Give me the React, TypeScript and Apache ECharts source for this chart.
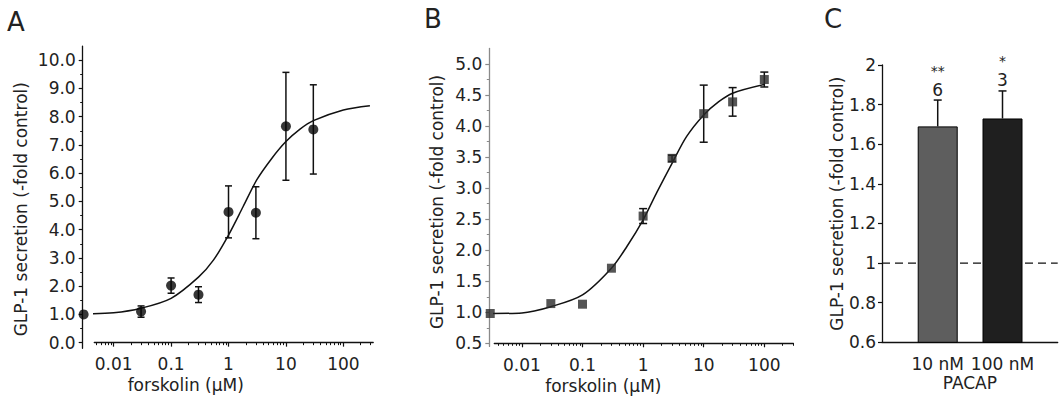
import React, { useEffect, useRef } from 'react';
import * as echarts from 'echarts';

const FONT = 'DejaVu Sans';
const TEXT = '#222';

// ---------- Panel A : forskolin dose response (circles)
const forskolinA = [0.003, 0.03, 0.1, 0.3, 1, 3, 10, 30];
const glp1A = [1.0, 1.1, 2.02, 1.7, 4.63, 4.6, 7.66, 7.55];
const semA = [0, 0.2, 0.27, 0.28, 0.92, 0.92, 1.91, 1.58];
const fitConcA = [0.003, 0.01, 0.03, 0.1, 0.3, 0.55, 1, 1.8, 3.1, 5.7, 10, 17.6, 30, 100, 290];
const fitGlp1A = [1.02, 1.06, 1.22, 1.57, 2.32, 2.93, 3.81, 4.82, 5.76, 6.53, 7.12, 7.56, 7.86, 8.24, 8.39];

// ---------- Panel B : forskolin dose response (squares)
const forskolinB = [0.003, 0.03, 0.1, 0.3, 1, 3, 10, 30, 100];
const glp1B = [0.98, 1.14, 1.13, 1.71, 2.55, 3.48, 4.2, 4.39, 4.75];
const semB = [0, 0, 0, 0, 0.12, 0.05, 0.46, 0.23, 0.12];
const fitConcB = [0.003, 0.01, 0.03, 0.1, 0.3, 0.54, 1, 1.7, 3, 5.2, 10, 17.5, 30, 100];
const fitGlp1B = [0.98, 0.99, 1.09, 1.28, 1.71, 2.06, 2.49, 2.94, 3.4, 3.83, 4.18, 4.39, 4.53, 4.67];

// ---------- Panel C : PACAP bars
const pacapLabels = ['10 nM', '100 nM'];
const pacapPos = [1, 2];
const glp1C = [1.69, 1.73];
const semC = [0.133, 0.139];
const nC = ['6', '3'];
const sigC = ['**', '*'];
const barColorsC = ['#5e5e5e', '#1f1f1f'];

// ---------- tick values / labels
const xDecades = [0.01, 0.1, 1, 10, 100];
const xDecadeLabels = ['0.01', '0.1', '1', '10', '100'];
const yMajorA = [0, 1, 2, 3, 4, 5, 6, 7, 8, 9, 10];
const yMinorA = [0.5, 1.5, 2.5, 3.5, 4.5, 5.5, 6.5, 7.5, 8.5, 9.5];
const yMajorB = [0.5, 1.0, 1.5, 2.0, 2.5, 3.0, 3.5, 4.0, 4.5, 5.0];
const yMinorB = [0.75, 1.25, 1.75, 2.25, 2.75, 3.25, 3.75, 4.25, 4.75];

const lg = (v: number) => Math.log10(v);

function logMinorTicks(lo: number, hi: number): number[] {
  const out: number[] = [];
  for (let d = -3; d <= 2; d++) {
    for (let k = 2; k <= 9; k++) {
      const v = k * Math.pow(10, d);
      if (v >= lo * (1 - 1e-9) && v <= hi * (1 + 1e-9)) out.push(lg(v));
    }
  }
  return out;
}

const decadeLabel = (v: number) => {
  for (let i = 0; i < xDecades.length; i++) {
    if (Math.abs(lg(xDecades[i]) - v) < 1e-6) return xDecadeLabels[i];
  }
  return '';
};

// ---------- layout
const GA = { left: 94.3, top: 46.1, width: 278.9, height: 302.2 };
const GB = { left: 494.3, top: 48.5, width: 299.1, height: 297.9 };
const GC = { left: 882, top: 65, width: 175.7, height: 277.3 };

const xRangeA = [0.0046, 331];
const yRangeA = [-0.2, 10.5];
const yCrossA = 0;
const xRangeB = [0.0035, 302];
const yRangeB = [0.45, 5.25];
const yCrossB = 0.5;
const xRangeC = [0.14, 2.852];
const yRangeC = [0.6, 2];

const labelStyle = { fontFamily: FONT, fontSize: 17, color: TEXT };

function errRender(cap: number, color: string) {
  return (params: any, api: any) => {
    const x = api.value(0);
    const m = api.value(1);
    const e = api.value(2);
    if (!e) return { type: 'group', children: [] };
    const hi = api.coord([x, m + e]);
    const lo = api.coord([x, m - e]);
    const style = { stroke: color, lineWidth: 1.5 };
    return {
      type: 'group',
      children: [
        { type: 'line', shape: { x1: hi[0], y1: hi[1], x2: lo[0], y2: lo[1] }, style },
        { type: 'line', shape: { x1: hi[0] - cap, y1: hi[1], x2: hi[0] + cap, y2: hi[1] }, style },
        { type: 'line', shape: { x1: lo[0] - cap, y1: lo[1], x2: lo[0] + cap, y2: lo[1] }, style },
      ],
    };
  };
}

function barErrRender(params: any, api: any) {
  const i = params.dataIndex;
  const x = api.value(0);
  const m = api.value(1);
  const e = api.value(2);
  const hi = api.coord([x, m + e]);
  const lo = api.coord([x, m]);
  const style = { stroke: '#111', lineWidth: 1.5 };
  const nBottom = hi[1] - 2;
  const nTop = nBottom - 17;
  return {
    type: 'group',
    children: [
      { type: 'line', shape: { x1: hi[0], y1: hi[1], x2: lo[0], y2: lo[1] }, style },
      { type: 'line', shape: { x1: hi[0] - 4, y1: hi[1], x2: hi[0] + 4, y2: hi[1] }, style },
      {
        type: 'text',
        style: {
          text: nC[i],
          x: hi[0],
          y: nBottom,
          align: 'center',
          verticalAlign: 'bottom',
          fontFamily: FONT,
          fontSize: 17,
          fill: TEXT,
        },
      },
      {
        type: 'text',
        style: {
          text: sigC[i],
          x: hi[0],
          y: nTop - 3.5,
          align: 'center',
          verticalAlign: 'bottom',
          fontFamily: FONT,
          fontSize: 14,
          fill: TEXT,
        },
      },
    ],
  };
}

function buildOption(): any {
  const offA = -((yCrossA - yRangeA[0]) / (yRangeA[1] - yRangeA[0])) * GA.height;
  const offB = -((yCrossB - yRangeB[0]) / (yRangeB[1] - yRangeB[0])) * GB.height;
  const commonX = {
    type: 'value',
    position: 'bottom',
    splitLine: { show: false },
    axisLine: { show: true, onZero: false, lineStyle: { color: '#111', width: 1.3 } },
  };
  const commonY = {
    type: 'value',
    position: 'left',
    splitLine: { show: false },
  };
  const gridCommon = { containLabel: false, outerBoundsMode: 'none' };
  return {
    animation: false,
    backgroundColor: '#fff',
    textStyle: { fontFamily: FONT },
    grid: [
      { ...GA, ...gridCommon },
      { ...GB, ...gridCommon },
      { ...GC, ...gridCommon },
    ],
    xAxis: [
      // A major
      {
        ...commonX,
        gridIndex: 0,
        min: lg(xRangeA[0]),
        max: lg(xRangeA[1]),
        offset: offA,
        axisTick: { show: true, length: 4, customValues: xDecades.map(lg), lineStyle: { color: '#111', width: 1.2 } },
        axisLabel: { ...labelStyle, margin: 13, customValues: xDecades.map(lg), formatter: decadeLabel },
        name: 'forskolin (\u03bcM)',
        nameLocation: 'middle',
        nameGap: 34,
        nameMoveOverlap: false,
        nameTextStyle: { ...labelStyle, padding: [0, 96, 0, 0] },
      },
      // A minor
      {
        ...commonX,
        gridIndex: 0,
        min: lg(xRangeA[0]),
        max: lg(xRangeA[1]),
        offset: offA,
        axisLine: { show: false, onZero: false },
        axisTick: { show: true, length: 2.5, customValues: logMinorTicks(xRangeA[0], xRangeA[1]), lineStyle: { color: '#111', width: 1 } },
        axisLabel: { show: false },
      },
      // B major
      {
        ...commonX,
        gridIndex: 1,
        min: lg(xRangeB[0]),
        max: lg(xRangeB[1]),
        offset: offB,
        axisTick: { show: true, length: 4, customValues: xDecades.map(lg), lineStyle: { color: '#111', width: 1.2 } },
        axisLabel: { ...labelStyle, margin: 13, customValues: xDecades.map(lg), formatter: decadeLabel },
        name: 'forskolin (\u03bcM)',
        nameLocation: 'middle',
        nameGap: 34,
        nameMoveOverlap: false,
        nameTextStyle: { ...labelStyle, padding: [0, 81, 0, 0] },
      },
      // B minor
      {
        ...commonX,
        gridIndex: 1,
        min: lg(xRangeB[0]),
        max: lg(xRangeB[1]),
        offset: offB,
        axisLine: { show: false, onZero: false },
        axisTick: { show: true, length: 2.5, customValues: logMinorTicks(xRangeB[0], xRangeB[1]), lineStyle: { color: '#111', width: 1 } },
        axisLabel: { show: false },
      },
      // C
      {
        ...commonX,
        gridIndex: 2,
        min: xRangeC[0],
        max: xRangeC[1],
        axisTick: { show: false },
        axisLabel: {
          ...labelStyle,
          margin: 13,
          customValues: pacapPos,
          formatter: (v: number) => pacapLabels[pacapPos.indexOf(Math.round(v))] ?? '',
        },
        name: 'PACAP',
        nameLocation: 'middle',
        nameGap: 32,
        nameMoveOverlap: false,
        nameTextStyle: { ...labelStyle },
      },
    ],
    yAxis: [
      // A major
      {
        ...commonY,
        gridIndex: 0,
        min: yRangeA[0],
        max: yRangeA[1],
        offset: GA.left - 82.7,
        axisLine: { show: true, onZero: false, lineStyle: { color: '#111', width: 1.3 } },
        axisTick: { show: true, length: 4, customValues: yMajorA, lineStyle: { color: '#111', width: 1.2 } },
        axisLabel: { ...labelStyle, margin: 7, customValues: yMajorA, formatter: (v: number) => v.toFixed(1) },
        name: 'GLP-1 secretion (-fold control)',
        nameLocation: 'middle',
        nameGap: 53,
        nameMoveOverlap: false,
        nameTextStyle: { ...labelStyle, padding: [0, 24, 0, 0] },
      },
      // A minor
      {
        ...commonY,
        gridIndex: 0,
        min: yRangeA[0],
        max: yRangeA[1],
        offset: GA.left - 82.7,
        axisLine: { show: false, onZero: false },
        axisTick: { show: true, length: 2.5, customValues: yMinorA, lineStyle: { color: '#111', width: 1 } },
        axisLabel: { show: false },
      },
      // B major
      {
        ...commonY,
        gridIndex: 1,
        min: yRangeB[0],
        max: yRangeB[1],
        offset: GB.left - 489.3,
        axisLine: { show: true, onZero: false, lineStyle: { color: '#8a8a8a', width: 1.3 } },
        axisTick: { show: true, length: 4, customValues: yMajorB, lineStyle: { color: '#8a8a8a', width: 1.2 } },
        axisLabel: { ...labelStyle, margin: 7, customValues: yMajorB, formatter: (v: number) => v.toFixed(1) },
        name: 'GLP-1 secretion (-fold control)',
        nameLocation: 'middle',
        nameGap: 44,
        nameMoveOverlap: false,
        nameTextStyle: { ...labelStyle, padding: [0, 9, 0, 0] },
      },
      // B minor
      {
        ...commonY,
        gridIndex: 1,
        min: yRangeB[0],
        max: yRangeB[1],
        offset: GB.left - 489.3,
        axisLine: { show: false, onZero: false },
        axisTick: { show: true, length: 2.5, customValues: yMinorB, lineStyle: { color: '#8a8a8a', width: 1 } },
        axisLabel: { show: false },
      },
      // C
      {
        ...commonY,
        gridIndex: 2,
        min: yRangeC[0],
        max: yRangeC[1],
        interval: 0.2,
        axisLine: { show: true, onZero: false, lineStyle: { color: '#111', width: 1.3 } },
        axisTick: { show: true, length: 4, lineStyle: { color: '#111', width: 1.2 } },
        axisLabel: { ...labelStyle, margin: 6 },
        name: 'GLP-1 secretion (-fold control)',
        nameLocation: 'middle',
        nameGap: 37,
        nameMoveOverlap: false,
        nameTextStyle: { ...labelStyle },
      },
    ],
    graphic: [
      { type: 'text', left: 7, top: 9, style: { text: 'A', fontFamily: FONT, fontSize: 26, fill: TEXT } },
      { type: 'text', left: 424, top: 6, style: { text: 'B', fontFamily: FONT, fontSize: 26, fill: TEXT } },
      { type: 'text', left: 824, top: 6, style: { text: 'C', fontFamily: FONT, fontSize: 26, fill: TEXT } },
    ],
    series: [
      // ---- A
      {
        type: 'custom',
        xAxisIndex: 0,
        yAxisIndex: 0,
        renderItem: errRender(3.5, '#111'),
        encode: { x: 0, y: 1 },
        data: forskolinA.map((c, i) => [lg(c), glp1A[i], semA[i]]),
        z: 2,
      },
      {
        type: 'line',
        xAxisIndex: 0,
        yAxisIndex: 0,
        data: fitConcA.map((c, i) => [lg(c), fitGlp1A[i]]),
        smooth: 0.3,
        showSymbol: false,
        symbol: 'none',
        clip: false,
        lineStyle: { color: '#111', width: 1.5 },
        z: 3,
      },
      {
        type: 'scatter',
        xAxisIndex: 0,
        yAxisIndex: 0,
        data: forskolinA.map((c, i) => [lg(c), glp1A[i]]),
        symbol: 'circle',
        symbolSize: 10,
        clip: false,
        itemStyle: { color: '#050505' },
        z: 4,
      },
      // ---- B
      {
        type: 'custom',
        xAxisIndex: 2,
        yAxisIndex: 2,
        renderItem: errRender(4, '#111'),
        encode: { x: 0, y: 1 },
        data: forskolinB.map((c, i) => [lg(c), glp1B[i], semB[i]]),
        z: 2,
      },
      {
        type: 'line',
        xAxisIndex: 2,
        yAxisIndex: 2,
        data: fitConcB.map((c, i) => [lg(c), fitGlp1B[i]]),
        smooth: 0.3,
        showSymbol: false,
        symbol: 'none',
        clip: false,
        lineStyle: { color: '#111', width: 1.5 },
        z: 3,
      },
      {
        type: 'scatter',
        xAxisIndex: 2,
        yAxisIndex: 2,
        data: forskolinB.map((c, i) => [lg(c), glp1B[i]]),
        symbol: 'rect',
        symbolSize: 9,
        clip: false,
        itemStyle: { color: '#2a2a2a' },
        z: 4,
      },
      // ---- C
      {
        type: 'line',
        xAxisIndex: 4,
        yAxisIndex: 4,
        data: [[xRangeC[0], 1], [xRangeC[1], 1]],
        symbol: 'none',
        lineStyle: { color: '#111', width: 1.3, type: [8, 5] },
        z: 1,
      },
      {
        type: 'bar',
        xAxisIndex: 4,
        yAxisIndex: 4,
        barWidth: 40,
        data: pacapPos.map((p, i) => ({
          value: [p, glp1C[i]],
          itemStyle: { color: barColorsC[i], borderColor: '#000', borderWidth: 1 },
        })),
        z: 3,
      },
      {
        type: 'custom',
        xAxisIndex: 4,
        yAxisIndex: 4,
        renderItem: barErrRender,
        encode: { x: 0, y: 1 },
        data: pacapPos.map((p, i) => [p, glp1C[i], semC[i]]),
        z: 4,
      },
    ],
  };
}

export default function App() {
  const ref = useRef<HTMLDivElement>(null);
  useEffect(() => {
    if (!ref.current) return;
    const chart = echarts.init(ref.current, undefined, { renderer: 'svg' });
    chart.setOption(buildOption());
    return () => chart.dispose();
  }, []);
  return (
    <div
      ref={ref}
      style={{ position: 'absolute', left: 0, top: 0, width: 1063, height: 407, background: '#fff' }}
    />
  );
}
